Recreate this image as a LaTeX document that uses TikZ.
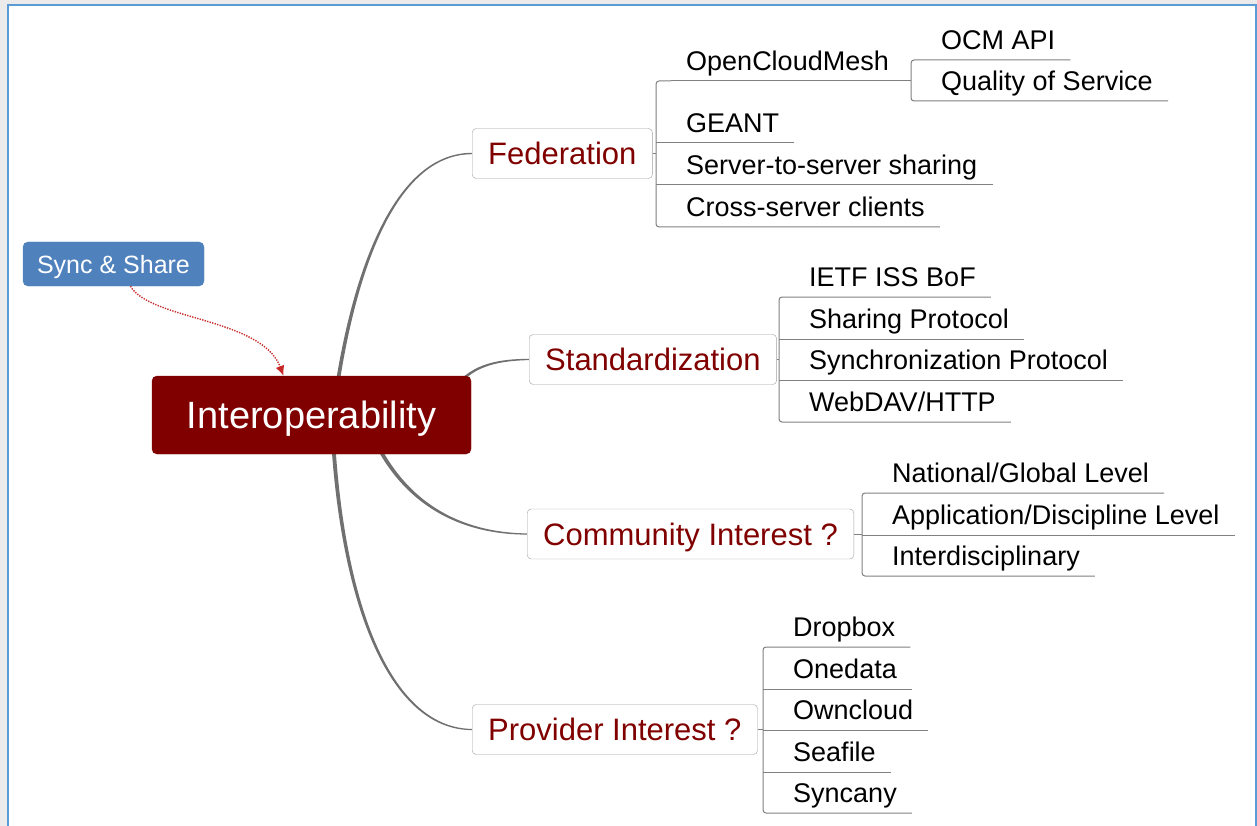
\documentclass[tikz,border=0pt]{standalone}
\usepackage{fontspec}
\setmainfont{Liberation Sans}
\usetikzlibrary{backgrounds,calc,arrows.meta}
\pgfdeclarelayer{links}
\pgfsetlayers{background,links,main}
\definecolor{pagegray}{RGB}{235,235,235}
\definecolor{frameblue}{RGB}{91,155,213}
\definecolor{rootred}{RGB}{128,0,0}
\definecolor{topicred}{RGB}{128,0,0}
\definecolor{syncblue}{RGB}{79,129,189}
\definecolor{boxgray}{RGB}{160,160,160}
\definecolor{twiggray}{RGB}{128,128,128}
\definecolor{branchgray}{RGB}{112,112,112}
\definecolor{linkred}{RGB}{200,40,40}
\tikzset{>={Latex[length=10pt,width=9pt]}}
\tikzset{
  rootbox/.style={fill=rootred, draw=rootred, rounded corners=5pt, minimum width=319pt, minimum height=78pt,
    text=white, font=\fontsize{38}{44}\selectfont, text height=27pt, text depth=0pt},
  tagbox/.style={fill=syncblue, draw=syncblue, rounded corners=5pt, minimum width=181pt, minimum height=44pt,
    text=white, font=\fontsize{25}{30}\selectfont, text height=18pt, text depth=0pt},
  topic/.style={draw=boxgray, fill=white, rounded corners=4pt, anchor=west, inner xsep=16pt, minimum height=50pt,
    text=topicred, font=\fontsize{31}{36}\selectfont, text height=22pt, text depth=0pt},
  leaf/.style={anchor=south west, inner xsep=15pt, inner ysep=10pt, text depth=0pt, font=\fontsize{27}{32}\selectfont},
  twig/.style={draw=twiggray, line width=1pt},
  branch/.style={fill=branchgray},
  link/.style={->, draw=linkred, fill=none, dash pattern=on 1.3pt off 1.3pt, line width=1.4pt}
}

\begin{document}
\begin{tikzpicture}[x=1pt,y=-1pt]
  \useasboundingbox (0,0) rectangle (1257,826);
  \begin{scope}[on background layer]
    \fill[pagegray] (0,0) rectangle (1257,826);
    \fill[white] (7,4) rectangle (1256,826);
    \draw[frameblue, line width=2pt] (8,826) -- (8,5) -- (1256,5) -- (1256,826);
  \end{scope}

  % centre and main topics
  \node[rootbox] (root) at (311.5,415) {Interoperability};
  \node[tagbox] (sync) at (113.5,264) {Sync \& Share};
  \node[topic] (fed) at (472,153.5) {Federation};
  \node[topic] (std) at (529,359.5) {Standardization};
  \node[topic] (com) at (527,534) {Community Interest ?};
  \node[topic] (prov) at (472,729.5) {Provider Interest ?};

  \draw[link] ($(sync.south)+(17,0)$) .. controls (150,320) and (262,318) .. ($(root.north)+(-28,0)$);

  \begin{pgfonlayer}{links}
    \fill[branch] ($(root.center)+(19,5)$) .. controls (345,300) and (385,153) .. ($(fed.west)+(0,-0.7)$)
      -- ($(fed.west)+(0,0.7)$) .. controls (386.5,154.5) and (348.5,300.5) .. ($(root.center)+(23,5)$) -- cycle;
    \fill[branch] ($(root.center)+(138.5,-23)$) .. controls (468,365) and (495,358.8) .. ($(std.west)+(0,-0.6)$)
      -- ($(std.west)+(0,0.6)$) .. controls (495.5,361) and (470,366.5) .. ($(root.center)+(141,-21.3)$) -- cycle;
    \fill[branch] ($(root.center)+(56.5,15)$) .. controls (400,505) and (460,534.6) .. ($(com.west)+(0,0.6)$)
      -- ($(com.west)+(0,-0.6)$) .. controls (460.5,532.5) and (403,503) .. ($(root.center)+(60.2,13.4)$) -- cycle;
    \fill[branch] ($(root.center)+(18.5,5)$) .. controls (338,600) and (388,730.1) .. ($(prov.west)+(0,0.6)$)
      -- ($(prov.west)+(0,-0.6)$) .. controls (389.5,728) and (341.5,599.5) .. ($(root.center)+(22.5,5)$) -- cycle;
  \end{pgfonlayer}

  % Federation
  \coordinate (fedbr) at (656,153.5);
  \coordinate (ocmbr) at (911,81);
  \node[leaf] (ocm) at (671,81) {OpenCloudMesh};
  \node[leaf] (geant) at (671,143) {GEANT};
  \node[leaf] (s2s) at (671,185) {Server-to-server sharing};
  \node[leaf] (csc) at (671,227) {Cross-server clients};
  \node[leaf] (ocmapi) at (926,60) {OCM API};
  \node[leaf] (qos) at (926,101) {Quality of Service};
  \draw[twig] (fed.east) -- (fedbr);
  \draw[twig, rounded corners=3pt] (ocm.south west) -| (fedbr) |- (csc.south east);
  \draw[twig] (ocm.south west) -- (ocmbr);
  \draw[twig] (geant.south east) -- (geant.south east -| fedbr);
  \draw[twig] (s2s.south east) -- (s2s.south east -| fedbr);
  \draw[twig, rounded corners=3pt] (ocmapi.south east) -| (ocmbr) |- (qos.south east);

  % Standardization
  \coordinate (stdbr) at (779,359.5);
  \node[leaf] (ietf) at (794,297) {IETF ISS BoF};
  \node[leaf] (sharing) at (794,339) {Sharing Protocol};
  \node[leaf] (syncproto) at (794,380) {Synchronization Protocol};
  \node[leaf] (webdav) at (794,422) {WebDAV/HTTP};
  \draw[twig] (std.east) -- (stdbr);
  \draw[twig, rounded corners=3pt] (ietf.south east) -| (stdbr) |- (webdav.south east);
  \draw[twig] (sharing.south east) -- (sharing.south east -| stdbr);
  \draw[twig] (syncproto.south east) -- (syncproto.south east -| stdbr);

  % Community Interest
  \coordinate (combr) at (862,534);
  \node[leaf] (national) at (877,493) {National/Global Level};
  \node[leaf] (appdisc) at (877,535) {Application/Discipline Level};
  \node[leaf] (interdisc) at (877,576) {Interdisciplinary};
  \draw[twig] (com.east) -- (combr);
  \draw[twig, rounded corners=3pt] (national.south east) -| (combr) |- (interdisc.south east);
  \draw[twig] (appdisc.south east) -- (appdisc.south east -| combr);

  % Provider Interest
  \coordinate (provbr) at (763,729.5);
  \node[leaf] (dropbox) at (778,647) {Dropbox};
  \node[leaf] (onedata) at (778,689) {Onedata};
  \node[leaf] (owncloud) at (778,730) {Owncloud};
  \node[leaf] (seafile) at (778,772) {Seafile};
  \node[leaf] (syncany) at (778,813) {Syncany};
  \draw[twig] (prov.east) -- (provbr);
  \draw[twig, rounded corners=3pt] (dropbox.south east) -| (provbr) |- (syncany.south east);
  \draw[twig] (onedata.south east) -- (onedata.south east -| provbr);
  \draw[twig] (owncloud.south east) -- (owncloud.south east -| provbr);
  \draw[twig] (seafile.south east) -- (seafile.south east -| provbr);
\end{tikzpicture}
\end{document}
